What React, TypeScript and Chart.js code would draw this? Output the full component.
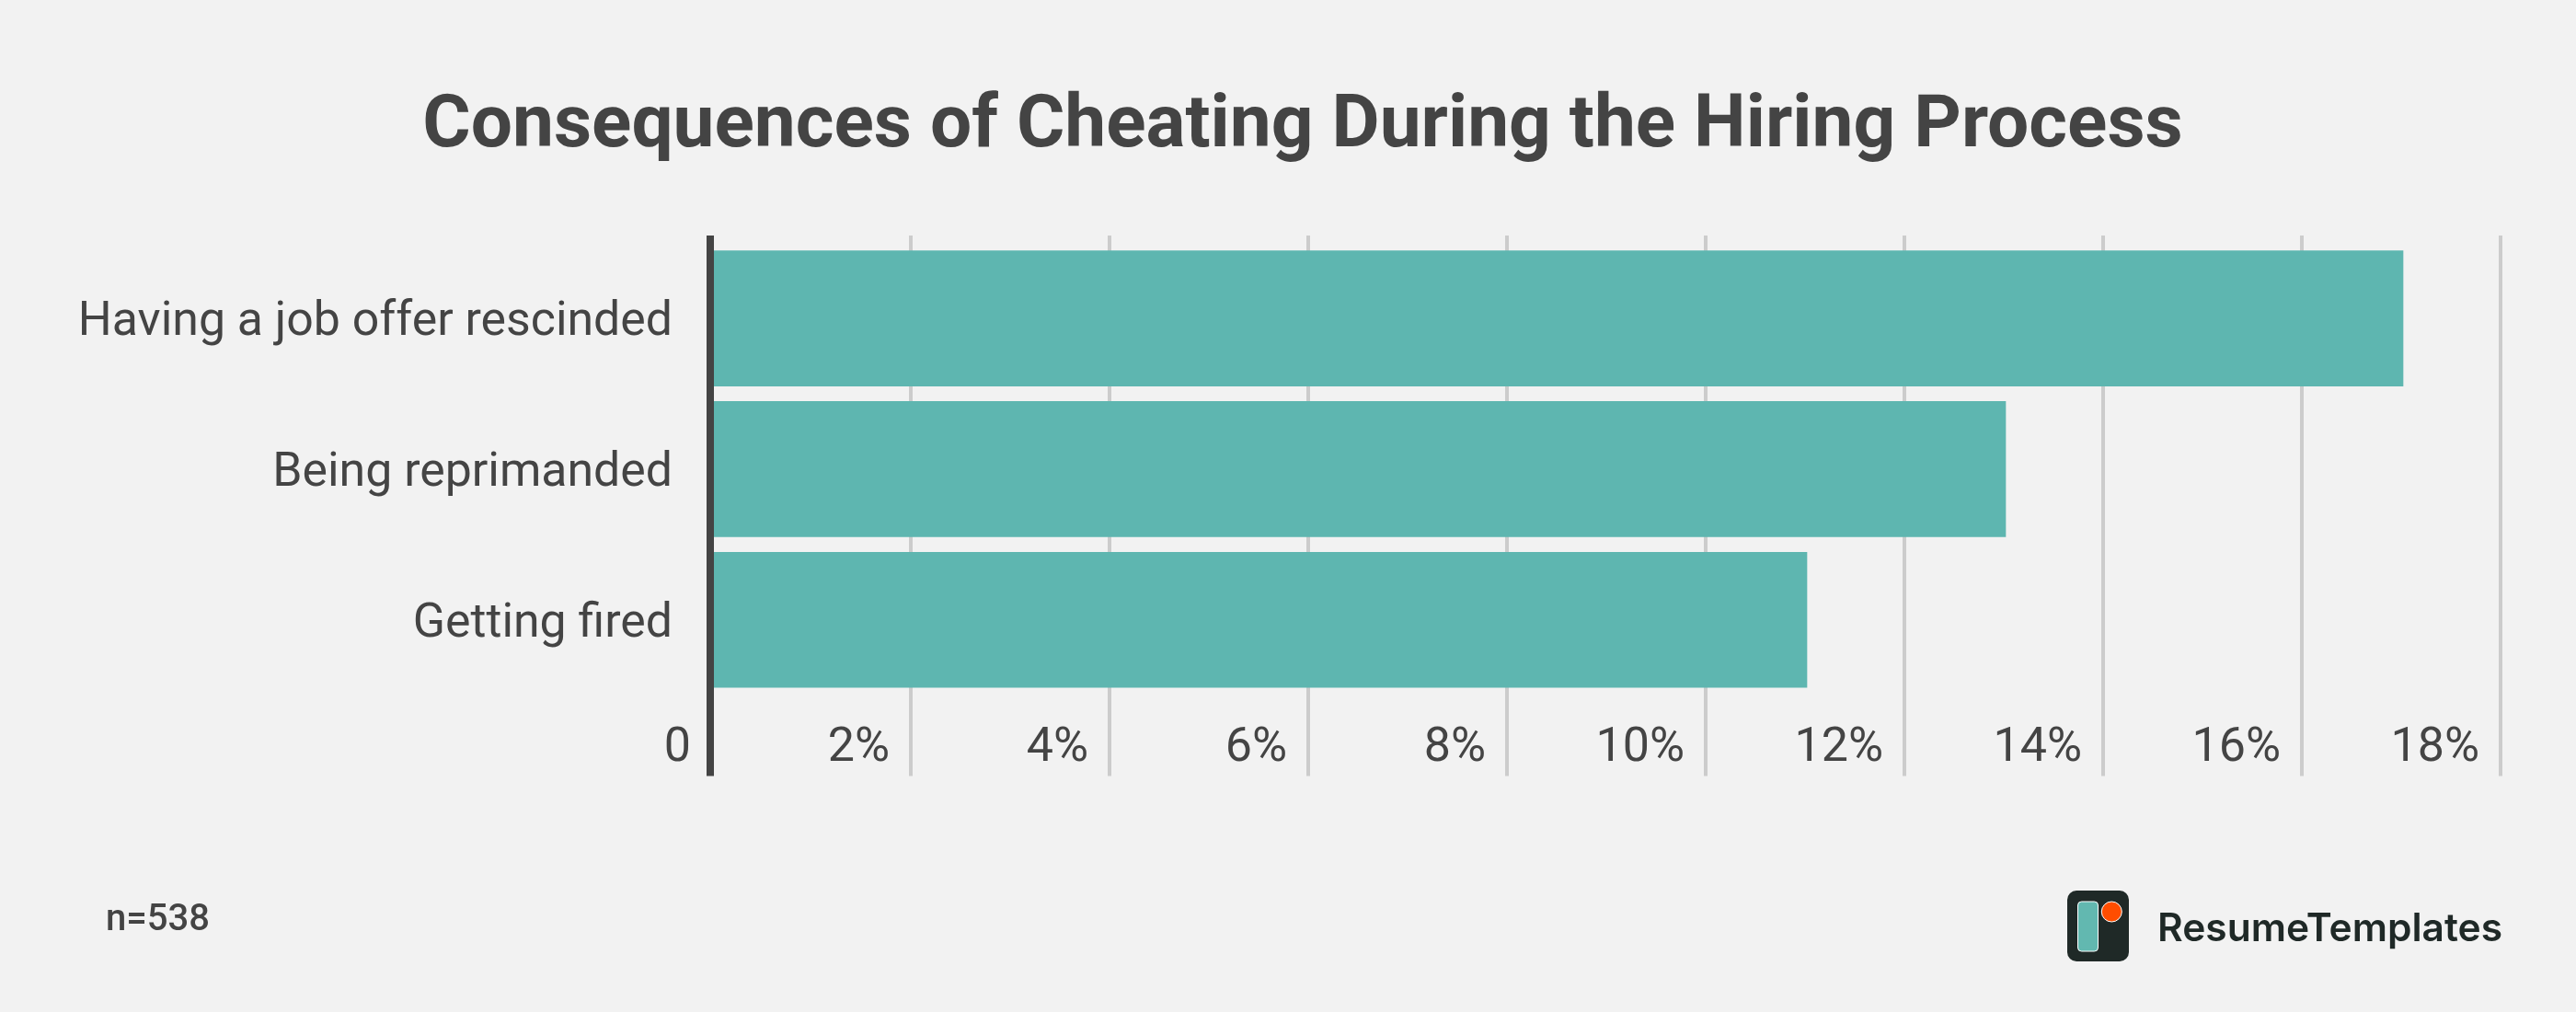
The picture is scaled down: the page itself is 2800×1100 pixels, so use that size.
import { useEffect, useRef } from 'react';
import { Chart, registerables } from 'chart.js';
import type { Plugin } from 'chart.js';

Chart.register(...registerables);

const titleText = 'Consequences of Cheating During the Hiring Process';
const categories = ['Having a job offer rescinded', 'Being reprimanded', 'Getting fired'];
const percentValues = [17, 13, 11];
const percentTicks = [0, 2, 4, 6, 8, 10, 12, 14, 16, 18];
const sampleNote = 'n=538';
const brandName = 'ResumeTemplates';

const TEXT = '#444444';
const BAR = '#5EB6B0';
const GRID = '#CCCCCC';
const PAGE = '#F2F2F2';

// the source draws its rules with their right edge on the value, chart.js would centre them
const rulesPlugin: Plugin<'bar'> = {
  id: 'rules',
  afterLayout(chart) {
    // labels are clipped to the axis box, let the long one run past it
    chart.scales.y.left = 0;
  },
  beforeDatasetsDraw(chart) {
    const { ctx, chartArea, scales } = chart;
    ctx.save();
    ctx.fillStyle = GRID;
    percentTicks.slice(1).forEach((tick) => {
      ctx.fillRect(scales.x.getPixelForValue(tick) - 4, chartArea.top, 4, chartArea.height);
    });
    ctx.fillStyle = TEXT;
    ctx.fillRect(scales.x.getPixelForValue(0) - 8, chartArea.top, 8, chartArea.height);
    ctx.restore();
  },
};

export default function App() {
  const canvasRef = useRef<HTMLCanvasElement>(null);

  useEffect(() => {
    if (!canvasRef.current) return;
    document.body.style.margin = '0';

    const chart = new Chart(canvasRef.current, {
      type: 'bar',
      plugins: [rulesPlugin],
      data: {
        datasets: [
          {
            data: percentValues.map((value, i) => ({ x: value, y: i })),
            backgroundColor: BAR,
            barThickness: 147,
          },
        ],
      },
      options: {
        indexAxis: 'y',
        responsive: false,
        devicePixelRatio: 1,
        animation: false,
        layout: { padding: { left: 112, right: 80, top: 0, bottom: 255.5 } },
        plugins: {
          legend: { display: false },
          tooltip: { enabled: false },
          title: {
            display: true,
            text: titleText,
            color: TEXT,
            font: { family: 'Roboto', size: 80.2, weight: 'bold', lineHeight: 1 },
            padding: { top: 99, bottom: 76.8 },
          },
        },
        scales: {
          x: {
            type: 'linear',
            min: 0,
            max: 18,
            grid: { display: false, drawTicks: false },
            border: { display: false },
            afterBuildTicks: (axis) => {
              axis.ticks = percentTicks.map((value) => ({ value }));
            },
            afterFit: (axis) => {
              axis.height = 1;
            },
            ticks: {
              autoSkip: false,
              maxRotation: 0,
              mirror: true,
              align: 'end',
              labelOffset: -25,
              padding: -2,
              color: TEXT,
              font: { family: 'Roboto', size: 52 },
              callback: (value) => (value === 0 ? '0' : `${value}%`),
            },
          },
          y: {
            type: 'linear',
            reverse: true,
            offset: false,
            min: -0.55,
            max: 3.036,
            grid: { display: false, drawTicks: false },
            border: { display: false },
            afterBuildTicks: (axis) => {
              axis.ticks = categories.map((_, i) => ({ value: i }));
            },
            afterFit: (axis) => {
              axis.width = 664;
            },
            ticks: {
              autoSkip: false,
              padding: 45,
              labelOffset: 5,
              color: TEXT,
              font: { family: 'Roboto', size: 51.8 },
              callback: (value) => categories[Number(value)],
            },
          },
        },
      },
    });

    return () => {
      chart.destroy();
    };
  }, []);

  return (
    <div style={{ position: 'relative', width: 2800, height: 1100, background: PAGE, overflow: 'hidden' }}>
      <canvas ref={canvasRef} width={2800} height={1100} style={{ display: 'block' }} />
      <div
        style={{
          position: 'absolute',
          left: 115,
          top: 975,
          lineHeight: '46px',
          fontFamily: 'Roboto',
          fontWeight: 500,
          fontSize: 40,
          color: TEXT,
        }}
      >
        {sampleNote}
      </div>
      <svg style={{ position: 'absolute', left: 2246, top: 967 }} width={70} height={80}>
        <rect x={1} y={1} width={67} height={77} rx={10} fill="#1F2927" />
        <rect x={12.5} y={13} width={22} height={54} rx={4} fill="#62B8B0" stroke="#FFFFFF" strokeWidth={1} />
        <circle cx={49.3} cy={24} r={11} fill="#FF4D00" stroke="#FFFFFF" strokeWidth={1} />
      </svg>
      <div
        style={{
          position: 'absolute',
          left: 2345,
          top: 982,
          lineHeight: '52px',
          fontFamily: 'Inter',
          fontWeight: 600,
          fontSize: 42.5,
          color: '#1F2927',
        }}
      >
        {brandName}
      </div>
    </div>
  );
}
